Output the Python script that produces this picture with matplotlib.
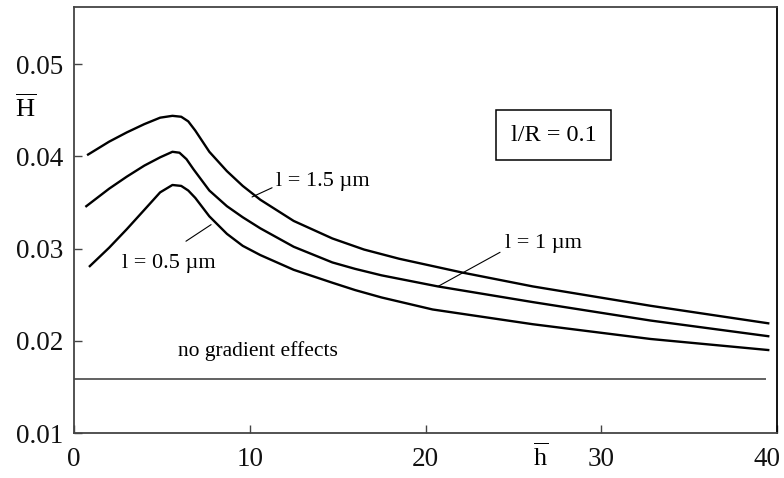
import numpy as np
import matplotlib
matplotlib.use("Agg")
import matplotlib.pyplot as plt
import matplotlib.transforms as mtransforms

plt.rcParams['font.family'] = ['Liberation Serif', 'DejaVu Serif']
plt.rcParams['mathtext.fontset'] = 'custom'
plt.rcParams['mathtext.rm'] = 'Liberation Serif'

# l = 1.5 um
h_15 = [0.8, 2.0, 3.0, 4.0, 4.9, 5.6, 6.1, 6.5, 6.9, 7.7, 8.7, 9.6, 10.6, 12.5, 14.7, 16.5, 18.5, 22.1, 26.1, 32.8, 39.5]
H_15 = [0.0402, 0.0416, 0.0426, 0.0435, 0.0442, 0.0444, 0.0443, 0.0438, 0.0428, 0.0405, 0.0384, 0.0368, 0.0353, 0.0330, 0.0311, 0.0299, 0.0289, 0.0274, 0.0259, 0.0238, 0.0219]
# l = 1 um
h_10 = [0.7, 2.0, 3.0, 4.0, 4.9, 5.6, 6.0, 6.4, 6.8, 7.7, 8.7, 9.6, 10.6, 12.5, 14.7, 16.0, 17.5, 20.7, 26.1, 32.8, 39.5]
H_10 = [0.0346, 0.0365, 0.0378, 0.0390, 0.0399, 0.0405, 0.0404, 0.0397, 0.0386, 0.0363, 0.0346, 0.0334, 0.0322, 0.0302, 0.0285, 0.0278, 0.0271, 0.0259, 0.0242, 0.0222, 0.0205]
# l = 0.5 um
h_05 = [0.9, 2.0, 3.0, 4.0, 4.9, 5.6, 6.1, 6.5, 6.9, 7.7, 8.7, 9.6, 10.6, 12.5, 14.7, 16.0, 17.5, 20.4, 26.1, 32.8, 39.5]
H_05 = [0.0281, 0.0301, 0.0321, 0.0342, 0.0361, 0.0369, 0.0368, 0.0363, 0.0355, 0.0335, 0.0316, 0.0303, 0.0293, 0.0277, 0.0263, 0.0255, 0.0247, 0.0234, 0.0218, 0.0202, 0.0190]

H_classic = 0.0159

xticks = [0, 10, 20, 30, 40]
yticks = [0.01, 0.02, 0.03, 0.04, 0.05]

fig = plt.figure(figsize=(7.84, 4.78), dpi=100)
ax = fig.add_axes([0.0944, 0.0941, 0.8967, 0.8912])

for h, H in [(h_15, H_15), (h_10, H_10), (h_05, H_05)]:
    ax.plot(h, H, color='black', lw=1.7, solid_joinstyle='round')

ax.hlines(H_classic, 0, 39.4, color='#555555', lw=1.3)

ax.set_xlim(0, 40)
ax.set_ylim(0.01, 0.0562)
ax.set_xticks(xticks)
ax.set_xticklabels([str(t) for t in xticks])
ax.set_yticks(yticks)
ax.set_yticklabels(['%.2f' % t for t in yticks])
ax.tick_params(direction='in', length=6, width=1, colors='#444444', labelcolor='#111111', labelsize=19.5)
ax.tick_params(axis='y', pad=8)
ax.tick_params(axis='x', pad=10)
for s in ['left', 'bottom', 'top']:
    ax.spines[s].set_color('#444444')
    ax.spines[s].set_linewidth(1.3)
ax.spines['right'].set_color('black')
ax.spines['right'].set_linewidth(1.3)

# keep the last x label inside the figure
last = ax.get_xticklabels()[-1]
last.set_transform(last.get_transform() + mtransforms.ScaledTranslation(-0.10, 0, fig.dpi_scale_trans))

# axis labels
fig.text(0.033, 0.774, r'$\overline{\mathrm{H}}$', fontsize=19, ha='center', va='center')
fig.text(0.689, 0.043, r'$\overline{\mathrm{h}}$', fontsize=19, ha='center', va='center')

ax.text(27.3, 0.0423, 'l/R = 0.1', fontsize=17.5, ha='center', va='center',
        bbox=dict(boxstyle='square,pad=0.6', fc='white', ec='black', lw=1.1))

line_kw = dict(arrowstyle='-', color='black', lw=0.8, shrinkA=0, shrinkB=0)
ax.annotate('', xy=(10.13, 0.0356), xytext=(11.27, 0.0366), arrowprops=line_kw)
ax.text(11.49, 0.0373, 'l = 1.5 \u00b5m', fontsize=16, ha='left', va='center')
ax.annotate('', xy=(20.71, 0.0259), xytext=(24.24, 0.0296), arrowprops=line_kw)
ax.text(24.52, 0.0305, 'l = 1 \u00b5m', fontsize=16, ha='left', va='center')
ax.annotate('', xy=(7.80, 0.0326), xytext=(6.37, 0.0308), arrowprops=line_kw)
ax.text(2.73, 0.0284, 'l = 0.5 \u00b5m', fontsize=16, ha='left', va='center')
ax.text(5.92, 0.0189, 'no gradient effects', fontsize=15.5, ha='left', va='center')

fig.savefig('out.png', dpi=100)
